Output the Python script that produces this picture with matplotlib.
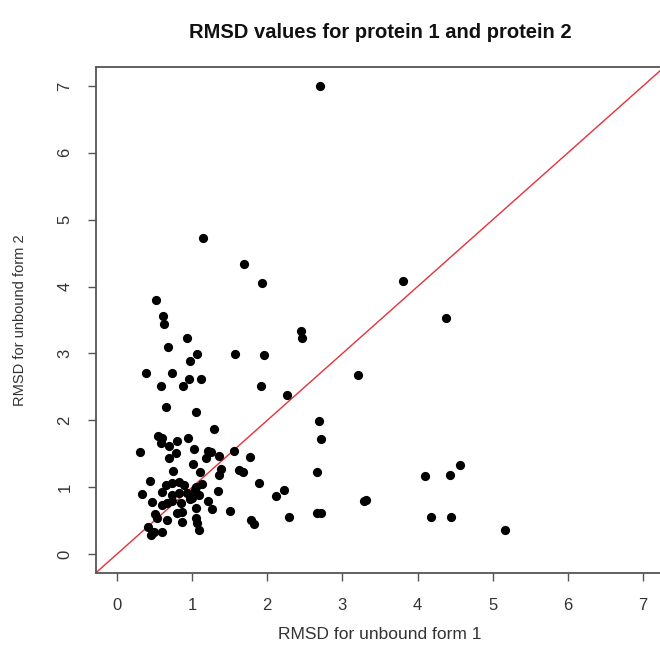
import matplotlib
matplotlib.use("Agg")
import matplotlib.pyplot as plt

plt.rcParams['font.family'] = ['Liberation Sans', 'DejaVu Sans']

title = "RMSD values for protein 1 and protein 2"
xlabel = "RMSD for unbound form 1"
ylabel = "RMSD for unbound form 2"
ticks = [0, 1, 2, 3, 4, 5, 6, 7]

rmsd_form1 = [
    2.707, 1.147, 1.693, 1.933, 3.800, 4.373, 0.520, 0.613, 0.627, 0.933,
    2.453, 2.467, 0.680, 1.067, 1.573, 1.960, 0.973, 0.387, 0.733, 0.960,
    1.120, 0.587, 0.880, 1.920, 3.213, 2.267, 0.653, 1.053, 1.293, 2.693,
    2.720,
    2.667, 2.227, 2.120, 2.293, 2.667, 2.720, 3.293, 3.320, 4.093, 4.427,
    4.560, 4.173, 4.440, 5.160,
    0.547, 0.600, 0.587, 0.693, 0.800, 0.947, 0.307, 0.787, 0.693, 1.027,
    1.213, 1.253, 1.187, 1.360, 1.560, 1.773, 1.013, 0.747, 1.107, 1.387,
    1.360, 1.627, 1.680, 0.440, 0.653, 0.733, 0.827, 0.893, 1.053, 1.133,
    1.893, 0.333, 0.600, 0.733, 0.827, 0.933, 1.347, 1.040, 0.467, 0.600,
    0.667, 0.733, 0.853, 0.867, 0.973, 1.053, 1.213, 1.267, 1.507, 0.507,
    0.533, 0.667, 0.867, 1.053, 1.067, 1.093, 0.413, 0.600, 0.453, 0.493,
    1.787, 1.827, 0.800, 1.000, 1.093,
]
rmsd_form2 = [
    7.000, 4.726, 4.337, 4.053, 4.083, 3.530, 3.799, 3.560, 3.440, 3.231,
    3.335, 3.231, 3.096, 2.991, 2.991, 2.976, 2.887, 2.707, 2.707, 2.617,
    2.617, 2.513, 2.513, 2.513, 2.677, 2.378, 2.199, 2.124, 1.870, 1.989,
    1.720,
    1.226, 0.957, 0.867, 0.553, 0.613, 0.613, 0.793, 0.808, 1.167, 1.182,
    1.331, 0.553, 0.553, 0.359,
    1.765, 1.735, 1.660, 1.615, 1.690, 1.735, 1.526, 1.511, 1.436, 1.570,
    1.541, 1.526, 1.436, 1.466, 1.541, 1.451, 1.346, 1.241, 1.226, 1.271,
    1.182, 1.256, 1.226, 1.092, 1.032, 1.062, 1.077, 1.032, 1.002, 1.047,
    1.062, 0.897, 0.927, 0.882, 0.912, 0.912, 0.942, 0.957, 0.778, 0.733,
    0.763, 0.793, 0.763, 0.628, 0.823, 0.688, 0.793, 0.673, 0.643, 0.598,
    0.538, 0.509, 0.479, 0.538, 0.464, 0.359, 0.404, 0.329, 0.284, 0.329,
    0.509, 0.449, 0.613, 0.838, 0.882,
]

W, H = 660, 655
fig = plt.figure(figsize=(W / 100, H / 100), dpi=100)
ax = fig.add_axes([96 / W, 1 - 572.7 / H, (664 - 96) / W, (572.7 - 67.3) / H])

ax.scatter(rmsd_form1, rmsd_form2, s=44, c='black', linewidths=0, zorder=3)
ax.axline((0, 0), slope=1, color='#e8303a', lw=1.0, zorder=2)

ax.set_xlim(-0.28, 7.28)
ax.set_ylim(-0.28, 7.28)
ax.set_xticks(ticks)
ax.set_yticks(ticks)
ax.set_xticklabels([str(t) for t in ticks])
ax.set_yticklabels([str(t) for t in ticks], rotation=90, va='center')

for sp in ax.spines.values():
    sp.set_color('#555555')
    sp.set_linewidth(1.3)

ax.tick_params(axis='both', direction='out', length=6, width=1.0, color='#555555',
               labelsize=12, labelcolor='#333333')
ax.tick_params(axis='x', pad=12)
ax.tick_params(axis='y', pad=11)

ax.set_xlabel(xlabel, fontsize=12.5, color='#333333', labelpad=10)
ax.set_ylabel(ylabel, fontsize=10.5, color='#333333', labelpad=22)
fig.text((96 + 664) / 2 / W, 1 - 33 / H, title, ha='center', va='center',
         fontsize=14.5, fontweight='bold', color='#111111')

fig.savefig("out.png", dpi=100, facecolor='white')
